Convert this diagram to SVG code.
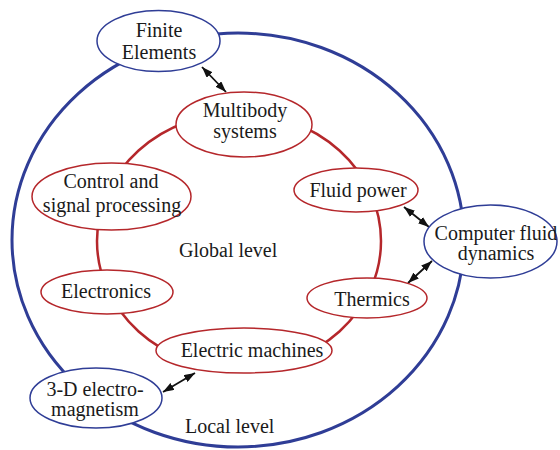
<svg xmlns="http://www.w3.org/2000/svg" width="560" height="450" viewBox="0 0 560 450">
<defs>
<marker id="ah" viewBox="0 0 11 8" refX="11" refY="4" markerWidth="11" markerHeight="8" markerUnits="userSpaceOnUse" orient="auto-start-reverse">
<path d="M0,0 L11,4 L0,8 z" fill="#111"/>
</marker>
<style>
.bg{fill:#fff}
.big{fill:none;stroke:#2f3d96;stroke-width:3}
.ring{fill:none;stroke:#b5272b;stroke-width:2.5}
.nb{fill:#fff;stroke:#2f3d96;stroke-width:1.5}
.nr{fill:#fff;stroke:#b5272b;stroke-width:1.5}
text{font-family:"Liberation Serif","Times New Roman",serif;font-size:20px;fill:#1a1a1a;text-anchor:middle}
.lbl{text-anchor:start}
.arr{stroke:#111;stroke-width:1.8;fill:none;marker-start:url(#ah);marker-end:url(#ah)}
</style>
</defs>
<rect class="bg" x="0" y="0" width="560" height="450"/>
<g id="levels">
<ellipse class="big" cx="238" cy="240" rx="226" ry="207"/>
<ellipse class="ring" cx="239" cy="241" rx="142" ry="128"/>
<text class="lbl" x="179" y="257">Global level</text>
<text class="lbl" x="185" y="433">Local level</text>
</g>
<g id="connectors">
<line class="arr" x1="202" y1="67" x2="226" y2="92"/>
<line class="arr" x1="404" y1="207" x2="429" y2="227"/>
<line class="arr" x1="408" y1="283" x2="432" y2="261"/>
<line class="arr" x1="195" y1="373" x2="163" y2="392"/>
</g>
<g id="finite-elements">
<ellipse class="nb" cx="158.5" cy="41" rx="61.5" ry="30.5"/>
<text x="159" y="37">Finite</text>
<text x="159" y="59">Elements</text>
</g>
<g id="multibody">
<ellipse class="nr" cx="244" cy="124.5" rx="68" ry="32.5"/>
<text x="245" y="117">Multibody</text>
<text x="245" y="138">systems</text>
</g>
<g id="fluid-power">
<ellipse class="nr" cx="356" cy="190" rx="62" ry="22"/>
<text x="358" y="197">Fluid power</text>
</g>
<g id="cfd">
<ellipse class="nb" cx="490.5" cy="241.5" rx="66.5" ry="36.5"/>
<text x="496" y="240">Computer fluid</text>
<text x="496" y="260">dynamics</text>
</g>
<g id="thermics">
<ellipse class="nr" cx="367" cy="298" rx="60" ry="20"/>
<text x="372" y="306">Thermics</text>
</g>
<g id="control">
<ellipse class="nr" cx="111.5" cy="196.5" rx="79.5" ry="33.5"/>
<text x="111" y="188">Control and</text>
<text x="112" y="212">signal processing</text>
</g>
<g id="electronics">
<ellipse class="nr" cx="107" cy="292" rx="66" ry="22"/>
<text x="106" y="298">Electronics</text>
</g>
<g id="electric-machines">
<ellipse class="nr" cx="244" cy="350.5" rx="88" ry="22.5"/>
<text x="252" y="357">Electric machines</text>
</g>
<g id="em3d">
<ellipse class="nb" cx="96" cy="398" rx="66" ry="30"/>
<text x="95" y="396">3-D electro-</text>
<text x="95" y="416">magnetism</text>
</g>
</svg>
